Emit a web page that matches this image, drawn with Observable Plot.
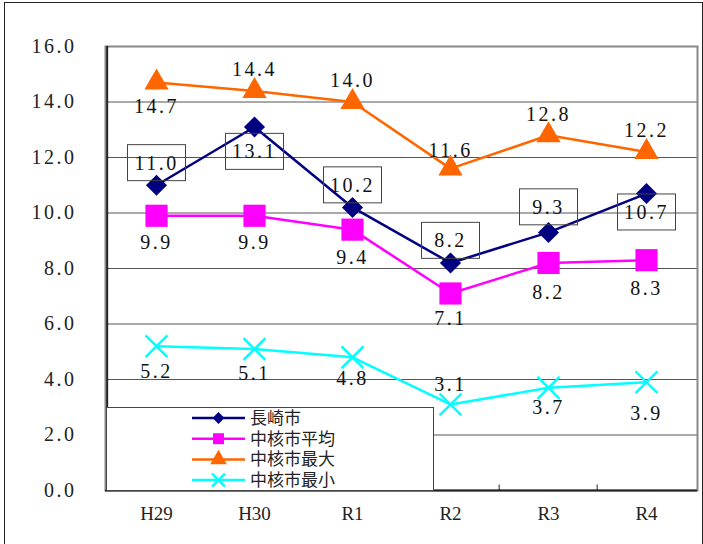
<!DOCTYPE html>
<html><head><meta charset="utf-8">
<script src="https://cdn.jsdelivr.net/npm/d3@7"></script>
<script src="https://cdn.jsdelivr.net/npm/@observablehq/plot@0.6"></script>
<style>body{margin:0;background:#fff}</style>
</head><body>
<div id="chart"></div>
<script>
const years = ["H29", "H30", "R1", "R2", "R3", "R4"];
const nagasaki = [11.0, 13.1, 10.2, 8.2, 9.3, 10.7];
const coreAvg = [9.9, 9.9, 9.4, 7.1, 8.2, 8.3];
const coreMax = [14.7, 14.4, 14.0, 11.6, 12.8, 12.2];
const coreMin = [5.2, 5.1, 4.8, 3.1, 3.7, 3.9];
const yTicks = [0, 2, 4, 6, 8, 10, 12, 14, 16];
const seriesNames = ["長崎市", "中核市平均", "中核市最大", "中核市最小"];

// styling / label placement
const W = 703, H = 544, ML = 105, MR = 6, MT = 46, MB = 54;
const step = (W - ML - MR) / years.length;
const series = [
  {name: seriesNames[0], values: nagasaki, color: "#000080", symbol: "diamond2", r: 9.5, fill: true, dy: [-22, 25, -22, -22, -25, 19], box: true},
  {name: seriesNames[1], values: coreAvg, color: "#FF00FF", symbol: "square", r: 12.5, fill: true, dy: [27, 27, 28, 25, 30, 28]},
  {name: seriesNames[2], values: coreMax, color: "#FF6600", symbol: "triangle", r: 9, fill: true, dy: [24, -21, -21, -18, -21, -21]},
  {name: seriesNames[3], values: coreMin, color: "#00FFFF", symbol: "times", r: 10, fill: false, dy: [25, 25, 21, -20, 20, 31]}
];
const fmt = v => v.toFixed(1);
const lblStyle = {fontFamily: "Liberation Serif", fontSize: 20, fill: "#111"};

const marks = [
  Plot.ruleY(yTicks.slice(1, -1), {stroke: "#555", strokeWidth: 1}),
  Plot.frame({stroke: "#888", strokeWidth: 2}),
  Plot.ruleY([0], {stroke: "#222", strokeWidth: 2}),
  Plot.ruleX(years.slice(0, 1), {dx: -step / 2, stroke: "#222", strokeWidth: 2}),
  Plot.ruleX(years.slice(1), {dx: -step / 2, y1: 0, y2: 0.2, stroke: "#222", strokeWidth: 1})
];
const order = [3, 1, 2, 0];
for (const k of order) {
  const s = series[k];
  const data = years.map((y, i) => ({year: y, v: s.values[i]}));
  marks.push(Plot.line(data, {x: "year", y: "v", stroke: s.color, strokeWidth: 2.5}));
  marks.push(Plot.dot(data, {x: "year", y: "v", symbol: s.symbol, r: s.r,
    fill: s.fill ? s.color : "none", stroke: s.fill ? "none" : s.color, strokeWidth: s.fill ? 0 : 2.5}));
}
for (const s of series) {
  years.forEach((y, i) => {
    marks.push(Plot.text([{year: y, v: s.values[i]}], {x: "year", y: "v", text: d => fmt(d.v), dy: s.dy[i],
      className: s.box ? "nbox" : "lbl", ...lblStyle}));
  });
}

const chart = Plot.plot({
  width: W, height: H, marginLeft: ML, marginRight: MR, marginTop: MT, marginBottom: MB,
  style: {fontFamily: "Liberation Serif", fontSize: "20px", background: "white", color: "#222", overflow: "visible"},
  x: {type: "point", domain: years, padding: 0.5, label: null, tickSize: 0, tickPadding: 16},
  y: {domain: [0, 16], ticks: yTicks, tickFormat: d => d.toFixed(1), label: null, tickSize: 0, tickPadding: 29},
  marks
});
document.getElementById("chart").appendChild(chart);

const svg = d3.select(chart);
svg.selectAll("[aria-label='y-axis tick label'] text, g.nbox text, g.lbl text")
  .attr("letter-spacing", "2.5px");
svg.selectAll("[aria-label='x-axis tick label'] text").attr("letter-spacing", "0px").attr("font-size", 19);

// boxes around Nagasaki labels
svg.selectAll("g.nbox text").each(function() {
  const b = this.getBBox();
  const cx = b.x + b.width / 2, cy = b.y + b.height / 2;
  const r = d3.select(this.parentNode).insert("rect", "text")
    .attr("x", cx - 29).attr("y", cy - 18).attr("width", 58).attr("height", 36)
    .attr("fill", "none").attr("stroke", "#444").attr("stroke-width", 1);
  const t = this.getAttribute("transform");
  if (t) r.attr("transform", t);
});

// legend
const lg = svg.append("g").attr("text-anchor", "start");
lg.append("rect").attr("x", 106.5).attr("y", 407.5).attr("width", 327).attr("height", 83)
  .attr("fill", "white").attr("stroke", "#444").attr("stroke-width", 1);
const symMap = {diamond2: d3.symbolDiamond2, square: d3.symbolSquare, triangle: d3.symbolTriangle, times: d3.symbolTimes};
series.forEach((s, i) => {
  const yy = 418 + i * 20.7;
  lg.append("line").attr("x1", 192).attr("x2", 245).attr("y1", yy).attr("y2", yy)
    .attr("stroke", s.color).attr("stroke-width", 2.5);
  const sz = s.symbol === "times" ? 110 : (s.symbol === "diamond2" ? 90 : 120);
  lg.append("path").attr("transform", `translate(218.5,${yy})`)
    .attr("d", d3.symbol(symMap[s.symbol], sz)())
    .attr("fill", s.fill ? s.color : "none").attr("stroke", s.fill ? "none" : s.color).attr("stroke-width", 2.5);
  lg.append("text").attr("x", 250).attr("y", yy).attr("dy", "0.35em").attr("text-anchor", "start")
    .attr("font-family", "'Noto Sans CJK JP'").attr("font-size", 17).attr("fill", "#222").text(s.name);
});

// outer border
svg.append("rect").attr("x", 4.5).attr("y", 2.5).attr("width", 698).attr("height", 545)
  .attr("fill", "none").attr("stroke", "#222").attr("stroke-width", 1);
</script>
</body></html>
